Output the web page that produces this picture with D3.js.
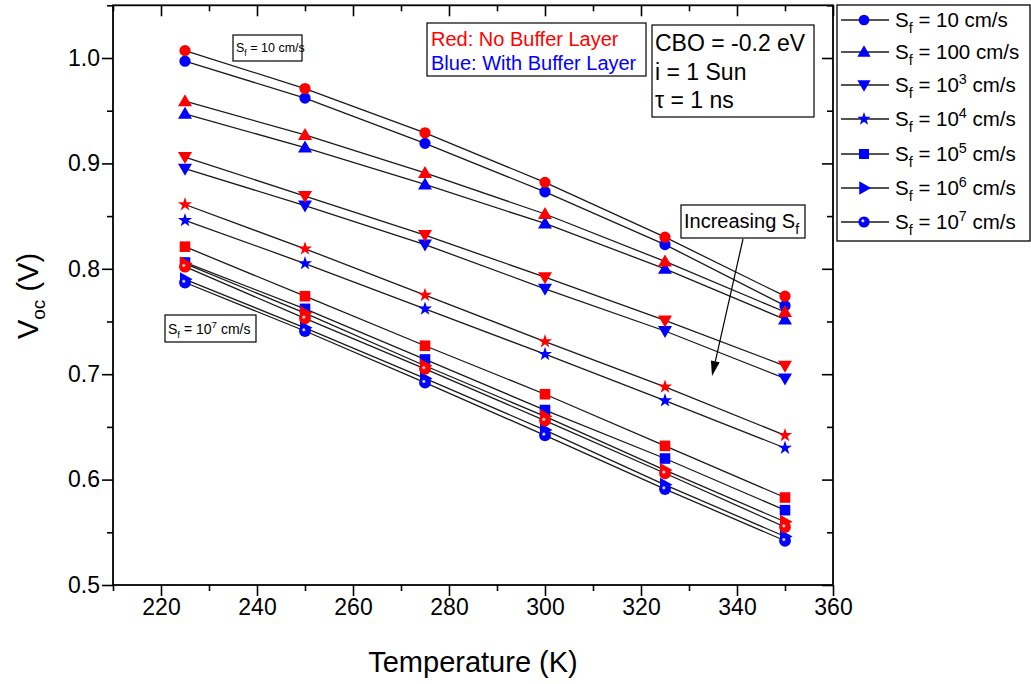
<!DOCTYPE html>
<html><head><meta charset="utf-8">
<script src="https://cdn.jsdelivr.net/npm/d3@7"></script>
<style>body{margin:0;background:#fff} svg{display:block;font-family:Arial,"Liberation Sans",sans-serif}</style>
</head><body><svg id="c" width="1031" height="684"></svg>
<script>
// ---- data ----
const temperatures = [225, 250, 275, 300, 325, 350];
const sfExponents = ["10", "100", "3", "4", "5", "6", "7"];
const xTicks = [220, 240, 260, 280, 300, 320, 340, 360];
const yTicks = [0.5, 0.6, 0.7, 0.8, 0.9, 1.0];
// Red: no buffer layer
const red_Sf1e1 = [1.007, 0.971, 0.929, 0.882, 0.830, 0.774];
const red_Sf1e2 = [0.959, 0.927, 0.891, 0.852, 0.807, 0.759];
const red_Sf1e3 = [0.906, 0.869, 0.832, 0.792, 0.751, 0.708];
const red_Sf1e4 = [0.861, 0.819, 0.775, 0.731, 0.688, 0.642];
const red_Sf1e5 = [0.821, 0.774, 0.727, 0.681, 0.632, 0.583];
const red_Sf1e6 = [0.805, 0.758, 0.708, 0.660, 0.609, 0.560];
const red_Sf1e7 = [0.802, 0.753, 0.705, 0.656, 0.606, 0.555];
// Blue: with buffer layer
const blue_Sf1e1 = [0.997, 0.962, 0.919, 0.873, 0.823, 0.765];
const blue_Sf1e2 = [0.947, 0.915, 0.880, 0.843, 0.800, 0.752];
const blue_Sf1e3 = [0.895, 0.860, 0.823, 0.781, 0.741, 0.696];
const blue_Sf1e4 = [0.846, 0.805, 0.762, 0.719, 0.675, 0.630];
const blue_Sf1e5 = [0.806, 0.762, 0.714, 0.666, 0.620, 0.571];
const blue_Sf1e6 = [0.790, 0.744, 0.696, 0.647, 0.595, 0.546];
const blue_Sf1e7 = [0.787, 0.741, 0.692, 0.642, 0.591, 0.542];

const markers = ["circle", "up", "down", "star", "square", "right", "sphere"];
const redSeries = [red_Sf1e1, red_Sf1e2, red_Sf1e3, red_Sf1e4, red_Sf1e5, red_Sf1e6, red_Sf1e7];
const blueSeries = [blue_Sf1e1, blue_Sf1e2, blue_Sf1e3, blue_Sf1e4, blue_Sf1e5, blue_Sf1e6, blue_Sf1e7];

const RED = "#ff0000", BLUE = "#0000ff";
const svg = d3.select("#c");
const x = d3.scaleLinear().domain([210, 360]).range([113, 833]);
const y = d3.scaleLinear().domain([0.5, 1.05]).range([585, 5.3]);

// gradients for sphere markers
const defs = svg.append("defs");
[["gRed", RED], ["gBlue", BLUE]].forEach(([id, c]) => {
  const g = defs.append("radialGradient").attr("id", id).attr("cx", "40%").attr("cy", "40%").attr("r", "60%");
  g.append("stop").attr("offset", "0%").attr("stop-color", "#fff");
  g.append("stop").attr("offset", "8%").attr("stop-color", "#fff").attr("stop-opacity", 0.9);
  g.append("stop").attr("offset", "30%").attr("stop-color", c);
  g.append("stop").attr("offset", "100%").attr("stop-color", c);
});

function shapePath(m, s) {
  s = s || 1;
  switch (m) {
    case "circle": return d3.symbol(d3.symbolCircle, 100 * s * s)();
    case "sphere": return d3.symbol(d3.symbolCircle, 110 * s * s)();
    case "square": return d3.symbol(d3.symbolSquare, 112 * s * s)();
    case "star": return d3.symbol(d3.symbolStar, 62 * s * s)();
    case "up": return `M0,${-7*s}L${7*s},${5*s}L${-7*s},${5*s}Z`;
    case "down": return `M0,${7*s}L${7*s},${-5*s}L${-7*s},${-5*s}Z`;
    case "right": return `M${7.5*s},0L${-5*s},${-7*s}L${-5*s},${7*s}Z`;
  }
}

// axes frame
const axG = svg.append("g");
const minorX = d3.range(210, 361, 10).filter(v => v % 20 !== 0);
const minorY = [0.55, 0.65, 0.75, 0.85, 0.95, 1.05];
const bottomAxis = d3.axisBottom(x).tickValues(xTicks).tickSize(11).tickFormat(d3.format("d"));
const gb = axG.append("g").attr("transform", `translate(0,${y(0.5)})`).call(bottomAxis);
gb.append("g").call(d3.axisBottom(x).tickValues(minorX).tickSize(6).tickFormat(""));
const leftAxis = d3.axisLeft(y).tickValues(yTicks).tickSize(11).tickFormat(d3.format(".1f"));
const gl = axG.append("g").attr("transform", `translate(${x(210)},0)`).call(leftAxis);
gl.append("g").call(d3.axisLeft(y).tickValues(minorY).tickSize(6).tickFormat(""));
const gt = axG.append("g").attr("transform", `translate(0,${y(1.05)})`)
  .call(d3.axisBottom(x).tickValues(xTicks).tickSize(11).tickFormat(""));
gt.append("g").call(d3.axisBottom(x).tickValues(minorX).tickSize(6).tickFormat(""));
const gr = axG.append("g").attr("transform", `translate(${x(360)},0)`)
  .call(d3.axisLeft(y).tickValues(yTicks).tickSize(11).tickFormat(""));
gr.append("g").call(d3.axisLeft(y).tickValues(minorY).tickSize(6).tickFormat(""));
axG.selectAll(".domain").remove();
axG.selectAll("line").attr("stroke", "#000").attr("stroke-width", 1.6);
axG.append("rect").attr("x", x(210)).attr("y", y(1.05)).attr("width", x(360) - x(210)).attr("height", y(0.5) - y(1.05))
  .attr("fill", "none").attr("stroke", "#000").attr("stroke-width", 1.8);
gb.selectAll("text").attr("font-size", 23).attr("font-family", "Arial, Liberation Sans").attr("fill", "#000");
gl.selectAll("text").attr("font-size", 23).attr("x", -13).attr("font-family", "Arial, Liberation Sans").attr("fill", "#000");

// axis titles
svg.append("text").attr("x", 473).attr("y", 672).attr("text-anchor", "middle").attr("font-size", 29).text("Temperature (K)");
const yt = svg.append("text").attr("transform", "translate(38,296) rotate(-90)").attr("text-anchor", "middle").attr("font-size", 29);
yt.append("tspan").text("V");
yt.append("tspan").attr("font-size", 19).attr("dy", 7).text("oc");
yt.append("tspan").attr("dy", -7).text(" (V)");

// lines
const line = d3.line().x((d, i) => x(temperatures[i])).y(d => y(d));
const allSeries = [];
redSeries.forEach((s, i) => allSeries.push({ vals: s, color: RED, m: markers[i] }));
blueSeries.forEach((s, i) => allSeries.push({ vals: s, color: BLUE, m: markers[i] }));
svg.append("g").selectAll("path").data(allSeries).join("path")
  .attr("d", d => line(d.vals)).attr("fill", "none").attr("stroke", "#1a1a1a").attr("stroke-width", 1.3);

// markers
const drawOrder = [];
for (let i = 0; i < 7; i++) { drawOrder.push({ vals: blueSeries[i], color: BLUE, m: markers[i] }); drawOrder.push({ vals: redSeries[i], color: RED, m: markers[i] }); }
const mg = svg.append("g");
drawOrder.forEach(sr => {
  mg.append("g").selectAll("path").data(sr.vals).join("path")
    .attr("transform", (d, i) => `translate(${x(temperatures[i])},${y(d)})`)
    .attr("d", shapePath(sr.m))
    .attr("fill", sr.m === "sphere" ? (sr.color === RED ? "url(#gRed)" : "url(#gBlue)") : sr.color);
});

// rich text helper
function rich(sel, parts, fs) {
  parts.forEach(p => {
    if (p.sub) sel.append("tspan").attr("font-size", fs * 0.7).attr("dy", fs * 0.28).text(p.t);
    else if (p.sup) sel.append("tspan").attr("font-size", fs * 0.7).attr("dy", -fs * 0.4).text(p.t);
    else sel.append("tspan").attr("dy", p.back || 0).text(p.t);
  });
}

// legend
const lg = svg.append("g");
lg.append("rect").attr("x", 837).attr("y", 5).attr("width", 193).attr("height", 236).attr("fill", "#fff").attr("stroke", "#000").attr("stroke-width", 1.3);
const legendRows = [20, 52, 85, 119, 154, 188, 222];
const lfs = 20.5;
markers.forEach((m, i) => {
  const ly = legendRows[i];
  lg.append("line").attr("x1", 841).attr("x2", 889).attr("y1", ly).attr("y2", ly).attr("stroke", "#1a1a1a").attr("stroke-width", 1.3);
  lg.append("path").attr("transform", `translate(864,${ly})`).attr("d", shapePath(m, 0.95))
    .attr("fill", m === "sphere" ? "url(#gBlue)" : BLUE);
  const t = lg.append("text").attr("x", 895).attr("y", ly + 7).attr("font-size", lfs);
  const e = sfExponents[i];
  if (i < 2) rich(t, [{ t: "S" }, { t: "f", sub: true }, { t: " = " + e + " cm/s", back: -lfs * 0.28 }], lfs);
  else rich(t, [{ t: "S" }, { t: "f", sub: true }, { t: " = 10", back: -lfs * 0.28 }, { t: e, sup: true }, { t: " cm/s", back: lfs * 0.4 }], lfs);
});

// annotation boxes
function box(x0, y0, w, h) {
  svg.append("rect").attr("x", x0).attr("y", y0).attr("width", w).attr("height", h).attr("fill", "#fff").attr("stroke", "#000").attr("stroke-width", 1.2);
}
box(233, 35, 69, 26);
let t1 = svg.append("text").attr("x", 236).attr("y", 52).attr("font-size", 12.5);
rich(t1, [{ t: "S" }, { t: "f", sub: true }, { t: " = 10 cm/s", back: -12.5 * 0.28 }], 12.5);

box(165, 315, 91, 27);
let t2 = svg.append("text").attr("x", 168).attr("y", 334).attr("font-size", 14);
rich(t2, [{ t: "S" }, { t: "f", sub: true }, { t: " = 10", back: -14 * 0.28 }, { t: "7", sup: true }, { t: " cm/s", back: 14 * 0.4 }], 14);

box(427, 23, 219, 53);
svg.append("text").attr("x", 431).attr("y", 46).attr("font-size", 20).attr("fill", RED).text("Red: No Buffer Layer");
svg.append("text").attr("x", 431).attr("y", 70).attr("font-size", 20).attr("fill", BLUE).text("Blue: With Buffer Layer");

box(652, 25, 162, 92);
["CBO = -0.2 eV", "i = 1 Sun", "τ = 1 ns"].forEach((s, i) => {
  svg.append("text").attr("x", 655).attr("y", 51 + i * 28.5).attr("font-size", 23).text(s);
});

box(681, 205, 124, 33);
let t3 = svg.append("text").attr("x", 684).attr("y", 228).attr("font-size", 20);
rich(t3, [{ t: "Increasing S" }, { t: "f", sub: true }], 20);

// arrow
const ax1 = 743, ay1 = 239, ax2 = 712, ay2 = 376;
const ang = Math.atan2(ay2 - ay1, ax2 - ax1);
const hl = 15, hw = 4.5;
const bx = ax2 - hl * Math.cos(ang), by = ay2 - hl * Math.sin(ang);
svg.append("line").attr("x1", ax1).attr("y1", ay1).attr("x2", bx).attr("y2", by).attr("stroke", "#000").attr("stroke-width", 1.2);
svg.append("path").attr("d", `M${ax2},${ay2}L${bx + hw * Math.sin(ang)},${by - hw * Math.cos(ang)}L${bx - hw * Math.sin(ang)},${by + hw * Math.cos(ang)}Z`).attr("fill", "#000");
</script></body></html>
